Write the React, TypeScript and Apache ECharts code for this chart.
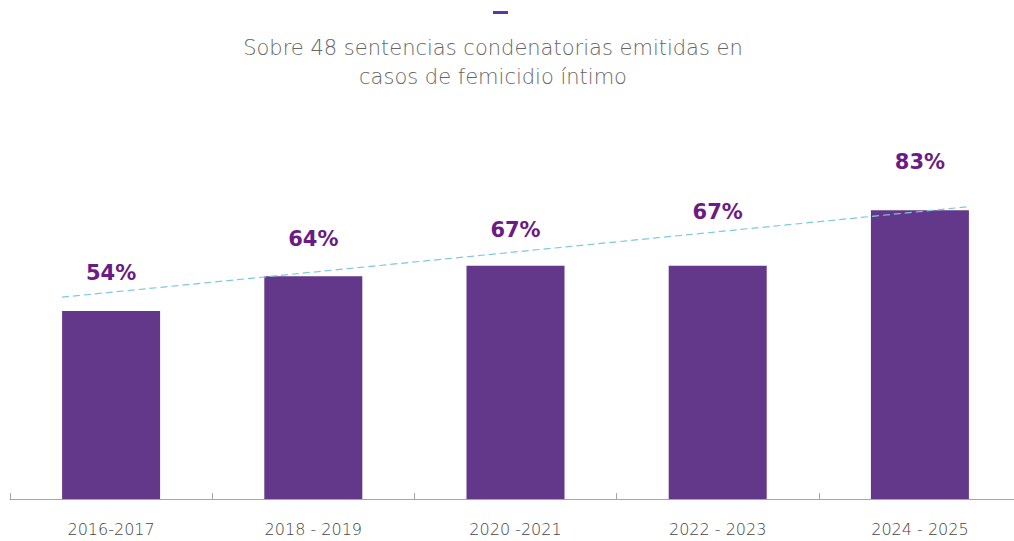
import React, { useEffect, useRef } from "react";
import * as echarts from "echarts";

const categories = ["2016-2017", "2018 - 2019", "2020 -2021", "2022 - 2023", "2024 - 2025"];
const values = [54, 64, 67, 67, 83];
const labelTexts = ["54%", "64%", "67%", "67%", "83%"];
const labelDistances = [28, 27, 25, 43, 38];
const trendX = [-0.243, 4.243];
const trendY = [58.0, 84.0];
const titleLines = ["Sobre 48 sentencias condenatorias emitidas en", "casos de femicidio íntimo"];

export default function App() {
  const ref = useRef<HTMLDivElement>(null);
  useEffect(() => {
    const chart = echarts.init(ref.current!, null, { renderer: "svg" });
    chart.setOption({
      animation: false,
      backgroundColor: "#ffffff",
      graphic: [
        { type: "rect", shape: { x: 493, y: 11, width: 15, height: 3 }, style: { fill: "#5e3896" } },
        {
          type: "text",
          x: 493,
          y: 33,
          style: {
            text: titleLines.join("\n"),
            fill: "#666666",
            fontSize: 21,
            fontFamily: "DejaVu Sans",
            fontWeight: 300,
            align: "center",
            verticalAlign: "top",
            lineHeight: 29,
          },
        },
      ],
      grid: { left: 10, top: 151, right: 0, bottom: 42, containLabel: false },
      xAxis: [
        {
          type: "category",
          data: categories,
          axisLine: { lineStyle: { color: "#a6a6a6", width: 1 } },
          axisTick: { show: true, inside: true, length: 6, lineStyle: { color: "#a6a6a6" } },
          axisLabel: { color: "#444444", fontSize: 16, fontFamily: "DejaVu Sans", fontWeight: 300, margin: 22 },
        },
        { type: "value", min: -0.5, max: 4.5, show: false },
      ],
      yAxis: { type: "value", min: 0, max: 100, show: false, splitLine: { show: false } },
      series: [
        {
          type: "bar",
          xAxisIndex: 0,
          barWidth: 98,
          itemStyle: { color: "#63378a" },
          data: values.map((v, i) => ({
            value: v,
            label: {
              show: true,
              position: "top",
              distance: labelDistances[i],
              formatter: labelTexts[i],
              color: "#6a1b86",
              fontSize: 21,
              fontWeight: "bold",
              fontFamily: "DejaVu Sans",
            },
          })),
          z: 2,
        },
        {
          type: "line",
          xAxisIndex: 1,
          data: trendX.map((x, i) => [x, trendY[i]]),
          symbol: "none",
          lineStyle: { color: "#7ec8df", width: 1.2, type: [7, 4] },
          z: 3,
        },
      ],
    });
    return () => chart.dispose();
  }, []);
  return (
    <div style={{ position: "absolute", left: 0, top: 0, width: 1014, height: 541, overflow: "hidden" }}>
      <div ref={ref} style={{ position: "absolute", left: 0, top: 0, width: 1021, height: 541 }} />
    </div>
  );
}
